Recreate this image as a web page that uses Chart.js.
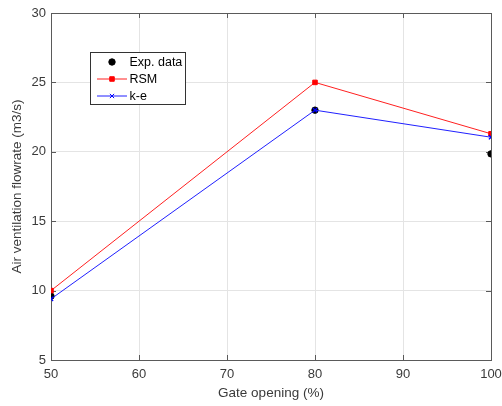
<!DOCTYPE html>
<html>
<head>
<meta charset="utf-8">
<script src="https://cdn.jsdelivr.net/npm/chart.js@4.4.1/dist/chart.umd.min.js"></script>
<style>
  html, body { margin: 0; padding: 0; background: #fff; }
  #wrap { width: 502px; height: 406px; }
</style>
</head>
<body>
<div id="wrap"><canvas id="c" width="502" height="406"></canvas></div>
<script>
// gate opening (%)
const gateOpening = [50, 80, 100];
// flowrate values (m3/s)
const expData = [9.6, 23.0, 19.85];
const rsmData = [10.0, 25.0, 21.3];
const keData = [9.4, 23.0, 21.05];

const xTicks = [50, 60, 70, 80, 90, 100];
const yTicks = [5, 10, 15, 20, 25, 30];

const legendNames = ['Exp. data', 'RSM', 'k-e'];

const axisColor = '#5a5a5a';
const textColor = '#3a3a3a';
const FONT = 'Liberation Sans, Arial, Helvetica, sans-serif';

function toPoints(vals) {
  return gateOpening.map((g, i) => ({ x: g, y: vals[i] }));
}

// box + inward ticks like matlab axes
const axesBox = {
  id: 'axesBox',
  beforeDatasetsDraw(chart) {
    const { ctx, chartArea: a, scales } = chart;
    ctx.save();
    ctx.strokeStyle = axisColor;
    ctx.lineWidth = 1;
    ctx.strokeRect(Math.round(a.left) + 0.5, Math.round(a.top) + 0.5,
      Math.round(a.right - a.left), Math.round(a.bottom - a.top));
    ctx.beginPath();
    xTicks.forEach(v => {
      const px = Math.round(scales.x.getPixelForValue(v)) + 0.5;
      ctx.moveTo(px, a.bottom); ctx.lineTo(px, a.bottom - 5);
      ctx.moveTo(px, a.top); ctx.lineTo(px, a.top + 5);
    });
    yTicks.forEach(v => {
      const py = Math.round(scales.y.getPixelForValue(v)) + 0.5;
      ctx.moveTo(a.left, py); ctx.lineTo(a.left + 5, py);
      ctx.moveTo(a.right, py); ctx.lineTo(a.right - 5, py);
    });
    ctx.stroke();
    ctx.restore();
  }
};

// legend drawn inside the plot, upper left
const boxLegend = {
  id: 'boxLegend',
  afterDraw(chart) {
    const { ctx } = chart;
    const bx = 90.5, by = 52.5, bw = 95, bh = 52;
    ctx.save();
    ctx.fillStyle = '#fff';
    ctx.fillRect(bx, by, bw, bh);
    ctx.strokeStyle = '#333';
    ctx.lineWidth = 1;
    ctx.strokeRect(bx, by, bw, bh);
    const rows = [62, 79, 96];
    ctx.font = '12.5px ' + FONT;
    ctx.textBaseline = 'middle';
    chart.data.datasets.forEach((ds, i) => {
      const y = rows[i];
      if (ds.showLine !== false) {
        ctx.strokeStyle = ds.borderColor;
        ctx.lineWidth = 1;
        ctx.beginPath();
        ctx.moveTo(97, y); ctx.lineTo(127, y);
        ctx.stroke();
      }
      ctx.fillStyle = ds.pointBackgroundColor;
      ctx.strokeStyle = ds.pointBorderColor;
      Chart.helpers.drawPoint(ctx, {
        pointStyle: ds.pointStyle,
        radius: ds.pointRadius,
        borderWidth: ds.pointBorderWidth || 1
      }, 112, y);
      ctx.fillStyle = '#000';
      ctx.fillText(ds.label, 129.5, y + 0.5);
    });
    ctx.restore();
  }
};

new Chart(document.getElementById('c'), {
  type: 'line',
  data: {
    datasets: [
      {
        label: legendNames[0],
        data: toPoints(expData),
        showLine: false,
        pointStyle: 'circle',
        pointRadius: 3.2,
        pointBackgroundColor: '#000',
        pointBorderColor: '#000',
        pointBorderWidth: 1,
        borderColor: '#000',
        order: 3
      },
      {
        label: legendNames[1],
        data: toPoints(rsmData),
        borderColor: '#ff2020',
        borderWidth: 1,
        pointStyle: 'rect',
        pointRadius: 3.2,
        pointBackgroundColor: '#ff0000',
        pointBorderColor: '#ff0000',
        pointBorderWidth: 1,
        tension: 0,
        order: 2
      },
      {
        label: legendNames[2],
        data: toPoints(keData),
        borderColor: '#2020ff',
        borderWidth: 1,
        pointStyle: 'crossRot',
        pointRadius: 3,
        pointBackgroundColor: '#0000ff',
        pointBorderColor: '#0000ff',
        pointBorderWidth: 1.3,
        tension: 0,
        order: 1
      }
    ]
  },
  options: {
    responsive: false,
    animation: false,
    events: [],
    layout: { padding: { top: 13, right: 11, left: 0, bottom: 0 } },
    plugins: {
      legend: { display: false },
      tooltip: { enabled: false }
    },
    scales: {
      x: {
        type: 'linear',
        min: 50,
        max: 100,
        afterBuildTicks(scale) { scale.ticks = xTicks.map(v => ({ value: v })); },
        afterFit(scale) {
          scale.height = 46;
          scale.paddingLeft = 0;
          scale.paddingRight = 0;
        },
        ticks: { color: textColor, font: { family: FONT, size: 13 }, padding: 7, maxRotation: 0 },
        grid: { color: '#e4e4e4', drawTicks: false },
        border: { display: false },
        title: {
          display: true,
          text: 'Gate opening (%)',
          color: textColor,
          font: { family: FONT, size: 13.5 },
          padding: { top: 0, bottom: 5 }
        }
      },
      y: {
        min: 5,
        max: 30,
        afterBuildTicks(scale) { scale.ticks = yTicks.map(v => ({ value: v })); },
        afterFit(scale) {
          scale.width = 51;
          scale.paddingTop = 0;
          scale.paddingBottom = 0;
        },
        ticks: { color: textColor, font: { family: FONT, size: 13 }, padding: 5 },
        grid: { color: '#e4e4e4', drawTicks: false },
        border: { display: false },
        title: {
          display: true,
          text: 'Air ventilation flowrate (m3/s)',
          color: textColor,
          font: { family: FONT, size: 13.5 },
          padding: { top: 9, bottom: 0 }
        }
      }
    }
  },
  plugins: [axesBox, boxLegend]
});
</script>
</body>
</html>
